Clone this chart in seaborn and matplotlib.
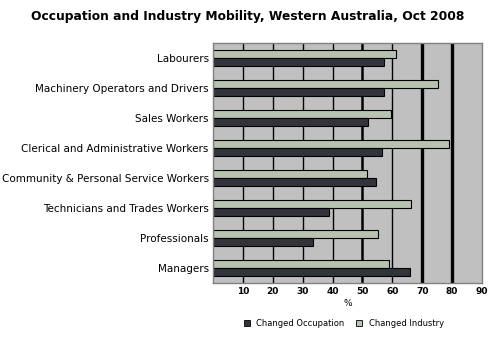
import matplotlib
matplotlib.use("Agg")
import matplotlib.pyplot as plt
import seaborn as sns
import pandas as pd
from matplotlib.patches import Patch

categories = ["Labourers", "Machinery Operators and Drivers", "Sales Workers",
              "Clerical and Administrative Workers", "Community & Personal Service Workers",
              "Technicians and Trades Workers", "Professionals", "Managers"]
changed_occupation = [57.2, 57.2, 51.9, 56.6, 54.6, 38.8, 33.4, 66.0]
changed_industry = [61.2, 75.3, 59.6, 79.1, 51.4, 66.3, 55.3, 58.8]
series_names = ["Changed Occupation", "Changed Industry"]
x_ticks = [10, 20, 30, 40, 50, 60, 70, 80, 90]

df = pd.DataFrame({
    "Category": categories * 2,
    "Value": changed_industry + changed_occupation,
    "Series": [series_names[1]] * len(categories) + [series_names[0]] * len(categories),
})

c_occ = "#31343a"
c_ind = "#b7c2b0"

sns.set_style("white")
plt.rcParams['font.family'] = ['DejaVu Sans']
plt.rcParams['text.color'] = 'black'
plt.rcParams['xtick.color'] = 'black'
plt.rcParams['ytick.color'] = 'black'
plt.rcParams['axes.labelcolor'] = 'black'

fig = plt.figure(figsize=(4.96, 3.37), dpi=100)
ax = fig.add_axes([213/496, 1-283/337, (482-213)/496, 240/337])
ax.set_facecolor("#c0c0c0")

# gridlines
gw = {10: 1.0, 20: 1.0, 30: 1.0, 40: 1.0, 50: 1.8, 60: 1.0, 70: 2.4, 80: 2.4}
for xv, lw in gw.items():
    ax.axvline(xv, color="black", lw=lw, zorder=0.5)

sns.barplot(data=df, y="Category", x="Value", hue="Series",
            hue_order=[series_names[1], series_names[0]],
            palette=[c_ind, c_occ], order=categories, orient="h",
            width=0.56, edgecolor="black", linewidth=0.8, ax=ax, legend=False,
            zorder=2, saturation=1)

ax.set_xlim(0, 90)
ax.set_ylim(7.5, -0.5)
ax.set_xticks(x_ticks)
ax.set_xticklabels([str(t) for t in x_ticks], fontsize=6.5, fontweight="bold")
ax.set_yticks(range(len(categories)))
ax.set_yticklabels(categories, fontsize=7.5)
ax.tick_params(axis="y", length=0, pad=3)
ax.tick_params(axis="x", length=0, pad=3)
ax.set_ylabel("")
ax.set_xlabel("%", fontsize=6.5, labelpad=2)
for s in ax.spines.values():
    s.set_color("#808080")
    s.set_linewidth(1.0)

fig.suptitle("Occupation and Industry Mobility, Western Australia, Oct 2008",
             x=0.5, y=0.97, fontsize=8.8, fontweight="bold", color="black")

handles = [Patch(facecolor=c_occ, edgecolor="black", lw=0.6),
           Patch(facecolor=c_ind, edgecolor="black", lw=0.6)]
fig.legend(handles, series_names, loc="center", bbox_to_anchor=(344/496, 1-323/337),
           ncol=2, frameon=False, fontsize=6, handlelength=0.7, handleheight=0.7,
           columnspacing=1.4, handletextpad=0.8)

fig.savefig("out.png", dpi=100)
